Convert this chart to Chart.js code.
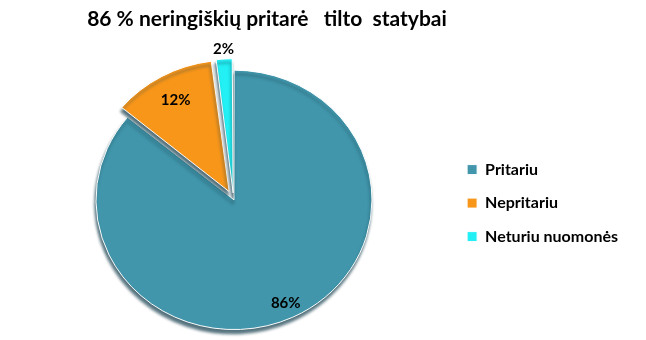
<!DOCTYPE html>
<html>
<head>
<meta charset="utf-8">
<script src="https://cdn.jsdelivr.net/npm/chart.js@4/dist/chart.umd.min.js"></script>
<style>
    html, body { margin: 0; padding: 0; background: #fff; }
    #wrap { width: 646px; height: 340px; }
</style>
</head>
<body>
<div id="wrap"><canvas id="pieChart"></canvas></div>
<script>
// Chart data
const chartTitle = '86 % neringiškių pritarė   tilto  statybai';
const labels = ['Pritariu', 'Nepritariu', 'Neturiu nuomonės'];
const values = [86, 12, 2];
const valueLabels = ['86%', '12%', '2%'];

const sliceColors = ['#4196ab', '#f8961a', '#22f0f4'];
// chart.js moves an arc by roughly offset/4 .. offset/2 px
const sliceOffsets = [4, 36, 26];
const FONT = 'Lato, "Open Sans", sans-serif';
const TILT = 0.94; // squash the pie a little, like the tilted 3D original

// title drawn over the pie, not the whole canvas
const titlePlugin = {
    id: 'sideTitle',
    afterDraw(chart) {
        const ctx = chart.ctx;
        ctx.save();
        ctx.font = 'bold 21px ' + FONT;
        ctx.fillStyle = '#000';
        ctx.textAlign = 'center';
        ctx.textBaseline = 'alphabetic';
        ctx.fillText(chartTitle, 267, 26);
        ctx.restore();
    }
};

// tilt + drop shadow to fake the 3D look
const shadowPlugin = {
    id: 'pieShadow',
    beforeDatasetsDraw(chart) {
        const ctx = chart.ctx;
        const area = chart.chartArea;
        const cx = (area.left + area.right) / 2;
        const cy = (area.top + area.bottom) / 2;
        ctx.save();
        ctx.translate(cx, cy);
        ctx.scale(1, TILT);
        ctx.translate(-cx, -cy);
        ctx.shadowColor = 'rgba(25, 65, 80, 0.75)';
        ctx.shadowBlur = 3;
        ctx.shadowOffsetX = -1;
        ctx.shadowOffsetY = 4;
    },
    afterDatasetsDraw(chart) {
        chart.ctx.restore();
    }
};

// percentage labels on / near the slices
const valueLabelPlugin = {
    id: 'valueLabels',
    afterDatasetsDraw(chart) {
        const ctx = chart.ctx;
        const area = chart.chartArea;
        const cy = (area.top + area.bottom) / 2;
        const meta = chart.getDatasetMeta(0);
        const factors = [0.88, 0.79, 1.08];
        ctx.save();
        ctx.font = 'bold 15px ' + FONT;
        ctx.fillStyle = '#000';
        ctx.textAlign = 'center';
        ctx.textBaseline = 'middle';
        meta.data.forEach((arc, i) => {
            const p = arc.getProps(['x', 'y', 'startAngle', 'endAngle', 'outerRadius', 'circumference'], true);
            const mid = (p.startAngle + p.endAngle) / 2;
            // same shift chart.js applies to an offset arc
            const off = (sliceOffsets[i] / 4) * (2 - Math.sin(Math.min(Math.PI, p.circumference)));
            const r = p.outerRadius * factors[i] + off;
            const x = p.x + Math.cos(mid) * r;
            const y = p.y + Math.sin(mid) * r;
            ctx.fillText(valueLabels[i], x, cy + (y - cy) * TILT);
        });
        ctx.restore();
    }
};

const ctx = document.getElementById('pieChart').getContext('2d');
const pieChart = new Chart(ctx, {
    type: 'pie',
    data: {
        labels: labels,
        datasets: [{
            data: values,
            backgroundColor: sliceColors,
            borderColor: '#ffffff',
            borderWidth: 1,
            offset: sliceOffsets
        }]
    },
    options: {
        responsive: true,
        maintainAspectRatio: false,
        animation: false,
        radius: 137,
        layout: {
            padding: { top: 58, left: 17.5, right: 18, bottom: 0 }
        },
        plugins: {
            title: { display: false },
            tooltip: { enabled: false },
            legend: {
                position: 'right',
                fullSize: false,
                title: {
                    display: true,
                    text: '',
                    font: { size: 1 },
                    padding: { top: 7, bottom: 0 }
                },
                labels: {
                    boxWidth: 10,
                    boxHeight: 10,
                    padding: 17.5,
                    color: '#000',
                    font: { family: FONT, size: 16, weight: 'bold' }
                }
            }
        }
    },
    plugins: [shadowPlugin, valueLabelPlugin, titlePlugin]
});
</script>
</body>
</html>
